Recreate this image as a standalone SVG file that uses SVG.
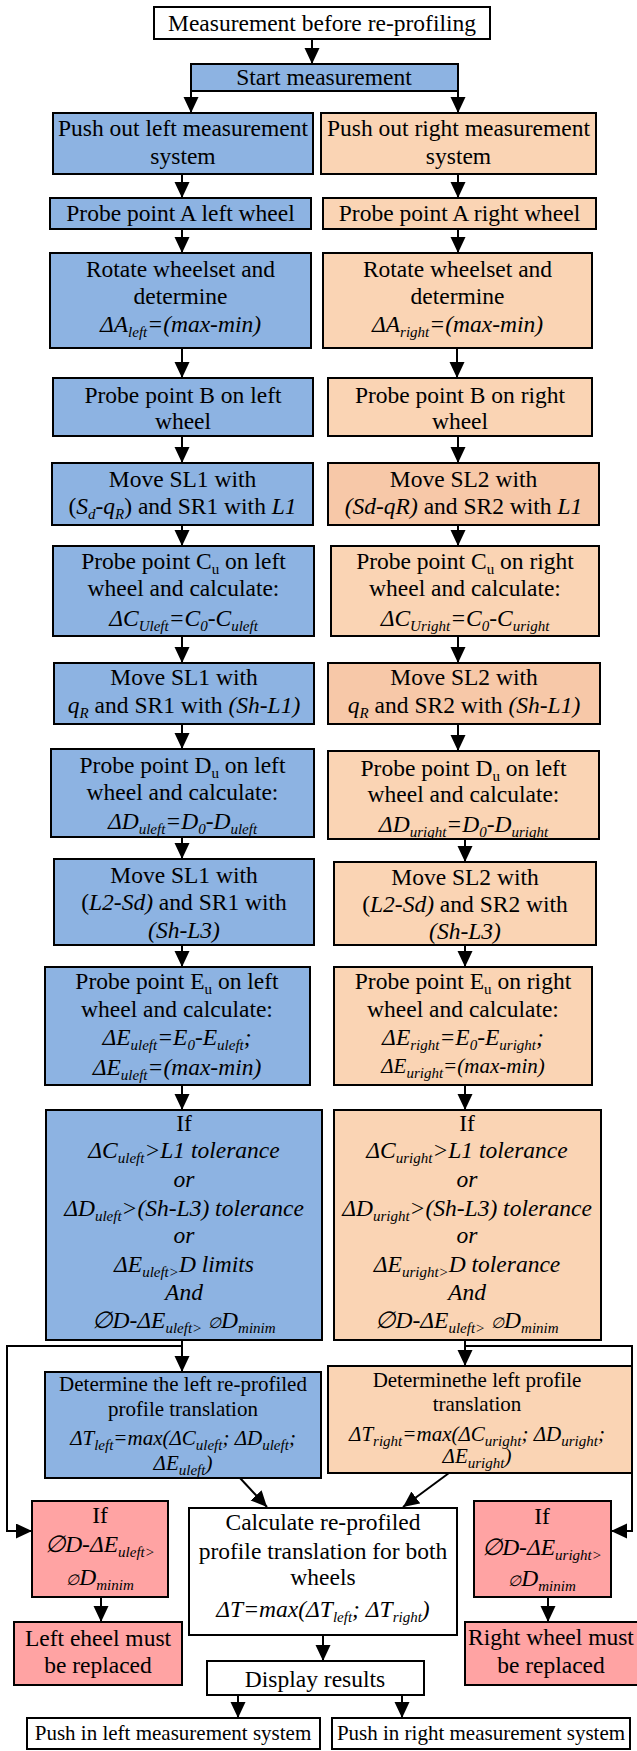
<svg xmlns="http://www.w3.org/2000/svg" width="637" height="1751" viewBox="0 0 637 1751">
<style>
rect{stroke:#000;stroke-width:2}
.b{fill:#8DB3E2}
.o{fill:#FAD4B4}
.o2{fill:#F7C8A8}
.p{fill:#FFA3A3}
.w{fill:#fff}
text{font-family:"Liberation Serif","Times New Roman",serif;font-size:23.5px;text-anchor:middle;fill:#000}
.i{font-style:italic}
.s{font-size:15px}
.m{font-size:21px}
.c{fill:none;stroke:#000;stroke-width:2;marker-end:url(#ah)}
</style>
<defs>
<marker id="ah" markerUnits="userSpaceOnUse" markerWidth="16" markerHeight="16" refX="16" refY="7.5" orient="auto">
<path d="M0,0 L16,7.5 L0,15 z" fill="#000"/>
</marker>
</defs>

<g id="connectors">
<path class="c" d="M312,39 V64"/>
<path class="c" d="M191,91 V113"/>
<path class="c" d="M458,91 V113"/>
<path class="c" d="M182,174 V198"/>
<path class="c" d="M458,174 V198"/>
<path class="c" d="M182,229 V253"/>
<path class="c" d="M458,229 V253"/>
<path class="c" d="M182,348 V378"/>
<path class="c" d="M457,348 V378"/>
<path class="c" d="M182,436 V463"/>
<path class="c" d="M458,436 V463"/>
<path class="c" d="M182,525 V546"/>
<path class="c" d="M458,525 V546"/>
<path class="c" d="M182,636 V663"/>
<path class="c" d="M458,636 V663"/>
<path class="c" d="M182,724 V749"/>
<path class="c" d="M458,724 V751"/>
<path class="c" d="M182,837 V859"/>
<path class="c" d="M465,839 V862"/>
<path class="c" d="M182,945 V967"/>
<path class="c" d="M465,945 V967"/>
<path class="c" d="M182,1085 V1110"/>
<path class="c" d="M465,1085 V1110"/>
<path class="c" d="M182,1340 V1372"/>
<path class="c" d="M465,1340 V1366"/>
<path class="c" d="M182,1346 H7 V1531 H32"/>
<path class="c" d="M465,1346 H632 V1531 H611"/>
<path class="c" d="M240,1478 L267,1507"/>
<path class="c" d="M449,1473 L403,1507"/>
<path class="c" d="M101,1597 V1622"/>
<path class="c" d="M548,1597 V1622"/>
<path class="c" d="M323,1635 V1661"/>
<path class="c" d="M238,1695 V1718"/>
<path class="c" d="M402,1695 V1718"/>
</g>

<g id="title"><rect class="w" x="154" y="7" width="336" height="32"/>
<text x="322" y="31">Measurement before re-profiling</text></g>

<g id="start"><rect class="b" x="191" y="64" width="267" height="27"/>
<text x="324" y="85">Start measurement</text></g>

<g id="pushOutLeft"><rect class="b" x="53" y="113" width="260" height="61"/>
<text x="183" y="136">Push out left measurement</text>
<text x="183" y="164">system</text></g>

<g id="pushOutRight"><rect class="o" x="321" y="113" width="275" height="61"/>
<text x="458.5" y="136">Push out right measurement</text>
<text x="458.5" y="164">system</text></g>

<g id="probeALeft"><rect class="b" x="50" y="198" width="261" height="31"/>
<text x="180.5" y="221">Probe point A left wheel</text></g>

<g id="probeARight"><rect class="o" x="323" y="198" width="273" height="31"/>
<text x="459.5" y="221">Probe point A right wheel</text></g>

<g id="rotateLeft"><rect class="b" x="50" y="253" width="261" height="95"/>
<text x="180.5" y="277">Rotate wheelset and</text>
<text x="180.5" y="304">determine</text>
<text x="180.5" y="332" class="i">ΔA<tspan class="s" dy="5">left</tspan><tspan dy="-5">=(max-min)</tspan></text></g>

<g id="rotateRight"><rect class="o" x="323" y="253" width="269" height="95"/>
<text x="457.5" y="277">Rotate wheelset and</text>
<text x="457.5" y="304">determine</text>
<text x="457.5" y="332" class="i">ΔA<tspan class="s" dy="5">right</tspan><tspan dy="-5">=(max-min)</tspan></text></g>

<g id="probeBLeft"><rect class="b" x="53" y="378" width="260" height="58"/>
<text x="183" y="403">Probe point B on left</text>
<text x="183" y="429">wheel</text></g>

<g id="probeBRight"><rect class="o" x="328" y="378" width="264" height="58"/>
<text x="460" y="403">Probe point B on right</text>
<text x="460" y="429">wheel</text></g>

<g id="moveLeft1"><rect class="b" x="52" y="463" width="261" height="62"/>
<text x="182.5" y="487">Move SL1 with</text>
<text x="182.5" y="514">(<tspan class="i">S</tspan><tspan class="i s" dy="5">d</tspan><tspan class="i" dy="-5">-q</tspan><tspan class="i s" dy="5">R</tspan><tspan dy="-5">) and SR1 with </tspan><tspan class="i">L1</tspan></text></g>

<g id="moveRight1"><rect class="o2" x="328" y="463" width="271" height="62"/>
<text x="463.5" y="487">Move SL2 with</text>
<text x="463.5" y="514"><tspan class="i">(Sd-qR)</tspan> and SR2 with <tspan class="i">L1</tspan></text></g>

<g id="probeCLeft"><rect class="b" x="53" y="546" width="261" height="90"/>
<text x="183.5" y="569">Probe point C<tspan class="s" dy="5">u</tspan><tspan dy="-5"> on left</tspan></text>
<text x="183.5" y="596">wheel and calculate:</text>
<text x="183.5" y="626" class="i">ΔC<tspan class="s" dy="5">Uleft</tspan><tspan dy="-5">=C</tspan><tspan class="s" dy="5">0</tspan><tspan dy="-5">-C</tspan><tspan class="s" dy="5">uleft</tspan></text></g>

<g id="probeCRight"><rect class="o" x="331" y="546" width="268" height="90"/>
<text x="465" y="569">Probe point C<tspan class="s" dy="5">u</tspan><tspan dy="-5"> on right</tspan></text>
<text x="465" y="596">wheel and calculate:</text>
<text x="465" y="626" class="i">ΔC<tspan class="s" dy="5">Uright</tspan><tspan dy="-5">=C</tspan><tspan class="s" dy="5">0</tspan><tspan dy="-5">-C</tspan><tspan class="s" dy="5">uright</tspan></text></g>

<g id="moveLeft2"><rect class="b" x="54" y="663" width="260" height="61"/>
<text x="184" y="685">Move SL1 with</text>
<text x="184" y="713"><tspan class="i">q</tspan><tspan class="i s" dy="5">R</tspan><tspan dy="-5"> and SR1 with </tspan><tspan class="i">(Sh-L1)</tspan></text></g>

<g id="moveRight2"><rect class="o2" x="328" y="663" width="272" height="61"/>
<text x="464" y="685">Move SL2 with</text>
<text x="464" y="713"><tspan class="i">q</tspan><tspan class="i s" dy="5">R</tspan><tspan dy="-5"> and SR2 with </tspan><tspan class="i">(Sh-L1)</tspan></text></g>

<g id="probeDLeft"><rect class="b" x="51" y="749" width="263" height="88"/>
<text x="182.5" y="773">Probe point D<tspan class="s" dy="5">u</tspan><tspan dy="-5"> on left</tspan></text>
<text x="182.5" y="800">wheel and calculate:</text>
<text x="182.5" y="829" class="i">ΔD<tspan class="s" dy="5">uleft</tspan><tspan dy="-5">=D</tspan><tspan class="s" dy="5">0</tspan><tspan dy="-5">-D</tspan><tspan class="s" dy="5">uleft</tspan></text></g>

<g id="probeDRight"><rect class="o" x="328" y="751" width="271" height="88"/>
<text x="463.5" y="776">Probe point D<tspan class="s" dy="5">u</tspan><tspan dy="-5"> on left</tspan></text>
<text x="463.5" y="802">wheel and calculate:</text>
<text x="463.5" y="832" class="i">ΔD<tspan class="s" dy="5">uright</tspan><tspan dy="-5">=D</tspan><tspan class="s" dy="5">0</tspan><tspan dy="-5">-D</tspan><tspan class="s" dy="5">uright</tspan></text></g>

<g id="moveLeft3"><rect class="b" x="54" y="859" width="260" height="86"/>
<text x="184" y="883">Move SL1 with</text>
<text x="184" y="910">(<tspan class="i">L2-Sd)</tspan> and SR1 with</text>
<text x="184" y="938" class="i">(Sh-L3)</text></g>

<g id="moveRight3"><rect class="o" x="334" y="862" width="262" height="83"/>
<text x="465" y="885">Move SL2 with</text>
<text x="465" y="912">(<tspan class="i">L2-Sd)</tspan> and SR2 with</text>
<text x="465" y="939" class="i">(Sh-L3)</text></g>

<g id="probeELeft"><rect class="b" x="45" y="967" width="265" height="118"/>
<text x="177" y="989">Probe point E<tspan class="s" dy="5">u</tspan><tspan dy="-5"> on left</tspan></text>
<text x="177" y="1017">wheel and calculate:</text>
<text x="177" y="1045" class="i">ΔE<tspan class="s" dy="5">uleft</tspan><tspan dy="-5">=E</tspan><tspan class="s" dy="5">0</tspan><tspan dy="-5">-E</tspan><tspan class="s" dy="5">uleft</tspan><tspan dy="-5">;</tspan></text>
<text x="177" y="1075" class="i">ΔE<tspan class="s" dy="5">uleft</tspan><tspan dy="-5">=(max-min)</tspan></text></g>

<g id="probeERight"><rect class="o" x="334" y="967" width="258" height="118"/>
<text x="463" y="989">Probe point E<tspan class="s" dy="5">u</tspan><tspan dy="-5"> on right</tspan></text>
<text x="463" y="1017">wheel and calculate:</text>
<text x="463" y="1045" class="i">ΔE<tspan class="s" dy="5">right</tspan><tspan dy="-5">=E</tspan><tspan class="s" dy="5">0</tspan><tspan dy="-5">-E</tspan><tspan class="s" dy="5">uright</tspan><tspan dy="-5">;</tspan></text>
<text x="463" y="1073" class="i m">ΔE<tspan class="s" dy="5">uright</tspan><tspan dy="-5">=(max-min)</tspan></text></g>

<g id="ifLeft"><rect class="b" x="46" y="1110" width="276" height="230"/>
<text x="184" y="1131">If</text>
<text x="184" y="1158" class="i">ΔC<tspan class="s" dy="5">uleft</tspan><tspan dy="-5">&gt;L1 tolerance</tspan></text>
<text x="184" y="1187" class="i">or</text>
<text x="184" y="1216" class="i">ΔD<tspan class="s" dy="5">uleft</tspan><tspan dy="-5">&gt;(Sh-L3) tolerance</tspan></text>
<text x="184" y="1243" class="i">or</text>
<text x="184" y="1272" class="i">ΔE<tspan class="s" dy="5">uleft&gt;</tspan><tspan dy="-5">D limits</tspan></text>
<text x="184" y="1300" class="i">And</text>
<text x="184" y="1328" class="i">∅D-ΔE<tspan class="s" dy="5">uleft&gt;</tspan><tspan dy="-5"> </tspan><tspan class="s">∅</tspan>D<tspan class="s" dy="5">minim</tspan></text></g>

<g id="ifRight"><rect class="o" x="334" y="1110" width="267" height="230"/>
<text x="467" y="1131">If</text>
<text x="467" y="1158" class="i">ΔC<tspan class="s" dy="5">uright</tspan><tspan dy="-5">&gt;L1 tolerance</tspan></text>
<text x="467" y="1187" class="i">or</text>
<text x="467" y="1216" class="i">ΔD<tspan class="s" dy="5">uright</tspan><tspan dy="-5">&gt;(Sh-L3) tolerance</tspan></text>
<text x="467" y="1243" class="i">or</text>
<text x="467" y="1272" class="i">ΔE<tspan class="s" dy="5">uright&gt;</tspan><tspan dy="-5">D tolerance</tspan></text>
<text x="467" y="1300" class="i">And</text>
<text x="467" y="1328" class="i">∅D-ΔE<tspan class="s" dy="5">uleft&gt;</tspan><tspan dy="-5"> </tspan><tspan class="s">∅</tspan>D<tspan class="s" dy="5">minim</tspan></text></g>

<g id="determineLeft"><rect class="b" x="45" y="1372" width="276" height="106"/>
<text x="183" y="1391" class="m">Determine the left re-profiled</text>
<text x="183" y="1416" class="m">profile translation</text>
<text x="183" y="1445" class="i m">ΔT<tspan class="s" dy="5">left</tspan><tspan dy="-5">=max(ΔC</tspan><tspan class="s" dy="5">uleft</tspan><tspan dy="-5">; ΔD</tspan><tspan class="s" dy="5">uleft</tspan><tspan dy="-5">;</tspan></text>
<text x="183" y="1470" class="i m">ΔE<tspan class="s" dy="5">uleft</tspan><tspan dy="-5">)</tspan></text></g>

<g id="determineRight"><rect class="o" x="328" y="1366" width="304" height="107"/>
<text x="477" y="1387" class="m">Determinethe left profile</text>
<text x="477" y="1411" class="m">translation</text>
<text x="477" y="1441" class="i m">ΔT<tspan class="s" dy="5">right</tspan><tspan dy="-5">=max(ΔC</tspan><tspan class="s" dy="5">uright</tspan><tspan dy="-5">; ΔD</tspan><tspan class="s" dy="5">uright</tspan><tspan dy="-5">;</tspan></text>
<text x="477" y="1463" class="i m">ΔE<tspan class="s" dy="5">uright</tspan><tspan dy="-5">)</tspan></text></g>

<g id="ifPinkLeft"><rect class="p" x="32" y="1501" width="136" height="96"/>
<text x="100" y="1523">If</text>
<text x="100" y="1552" class="i">∅D-ΔE<tspan class="s" dy="5">uleft&gt;</tspan></text>
<text x="100" y="1585" class="i"><tspan class="s">∅</tspan>D<tspan class="s" dy="5">minim</tspan></text></g>

<g id="calculate"><rect class="w" x="189" y="1508" width="268" height="127"/>
<text x="323" y="1530">Calculate re-profiled</text>
<text x="323" y="1559">profile translation for both</text>
<text x="323" y="1585">wheels</text>
<text x="323" y="1617" class="i">ΔT=max(ΔT<tspan class="s" dy="5">left</tspan><tspan dy="-5">; ΔT</tspan><tspan class="s" dy="5">right</tspan><tspan dy="-5">)</tspan></text></g>

<g id="ifPinkRight"><rect class="p" x="474" y="1501" width="137" height="96"/>
<text x="542" y="1524">If</text>
<text x="542" y="1555" class="i">∅D-ΔE<tspan class="s" dy="5">uright&gt;</tspan></text>
<text x="542" y="1586" class="i"><tspan class="s">∅</tspan>D<tspan class="s" dy="5">minim</tspan></text></g>

<g id="leftReplace"><rect class="p" x="14" y="1622" width="168" height="63"/>
<text x="98" y="1646">Left eheel must</text>
<text x="98" y="1673">be replaced</text></g>

<g id="rightReplace"><rect class="p" x="465" y="1622" width="176" height="63"/>
<text x="551" y="1645">Right wheel must</text>
<text x="551" y="1673">be replaced</text></g>

<g id="display"><rect class="w" x="207" y="1661" width="217" height="34"/>
<text x="315" y="1687">Display results</text></g>

<g id="pushInLeft"><rect class="w" x="27" y="1718" width="293" height="31"/>
<text x="173" y="1740" class="m">Push in left measurement system</text></g>

<g id="pushInRight"><rect class="w" x="332" y="1718" width="298" height="31"/>
<text x="481" y="1740" class="m">Push in right measurement system</text></g>
</svg>
